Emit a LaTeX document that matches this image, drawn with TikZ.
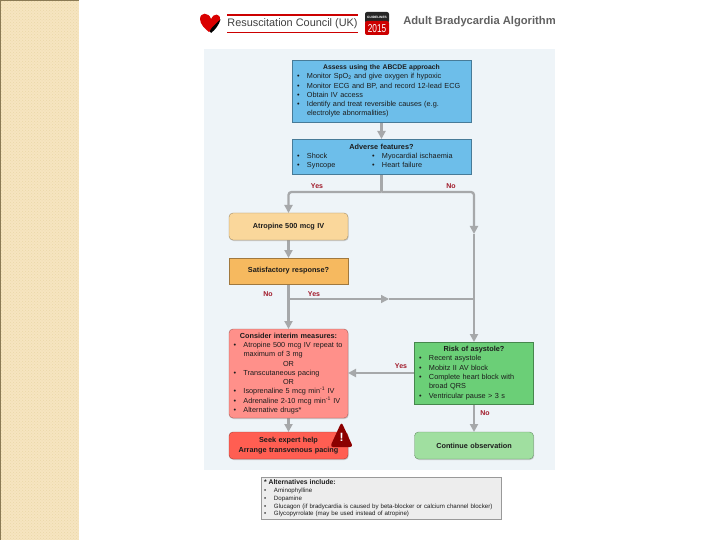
\documentclass[tikz,border=0pt]{standalone}
\usepackage{fontspec}
\setmainfont{Liberation Sans}
\usetikzlibrary{positioning,backgrounds,arrows.meta,shadows,patterns}
\definecolor{stripc}{HTML}{F6E5C0}
\definecolor{stripd}{HTML}{EBD7A8}
\definecolor{stripe}{HTML}{8A7A55}
\definecolor{panelc}{HTML}{EEF4F8}
\definecolor{connc}{HTML}{A6A8AA}
\definecolor{lblc}{HTML}{A01828}
\definecolor{inkc}{HTML}{1C1C1C}
\definecolor{assessc}{HTML}{6DBEEA}
\definecolor{atropc}{HTML}{FAD79B}
\definecolor{satisc}{HTML}{F6B95F}
\definecolor{interc}{HTML}{FF908A}
\definecolor{seekc}{HTML}{FF5E52}
\definecolor{riskc}{HTML}{6BCF77}
\definecolor{contc}{HTML}{A0DFA0}
\newcommand{\bitem}[1]{\par\noindent\hangindent=10pt\hangafter=1\makebox[10pt][l]{\textbullet}#1\par}
\newcommand{\bpair}[2]{\par\noindent\makebox[10pt][l]{\textbullet}\makebox[65pt][l]{#1}\makebox[10pt][l]{\textbullet}#2\par}
\begin{document}
\begin{tikzpicture}[
  x=1pt,y=-1pt,
  font=\fontsize{7.3}{9.3}\selectfont,
  text=inkc,
  blk/.style={draw,outer sep=0pt,inner xsep=5pt,inner ysep=0pt,align=left,
    drop shadow={shadow xshift=.7pt,shadow yshift=-1pt,opacity=.35}},
  assessbox/.style={blk,fill=#1,draw=#1!65!black,text width=169pt},
  wide/.style={blk,fill=#1,draw=#1!65!black,text width=110pt,inner xsep=4.5pt},
  soft/.style={wide=#1,rounded corners=4pt},
  fl/.style={-{Triangle[length=8pt,width=8pt]},line width=2.3pt,draw=connc},
  ln/.style={line width=2.3pt,draw=connc},
  thin fl/.style={-{Triangle[length=8pt,width=8pt]},line width=1.3pt,draw=connc},
  lbl/.style={text=lblc,font=\fontsize{7}{8}\selectfont\bfseries},
]
\useasboundingbox (0,0) rectangle (720,540);
% page strip and panel
\begin{scope}[on background layer]
  \fill[stripc] (0,0) rectangle (78.5,540);
  \fill[pattern=crosshatch dots,pattern color=stripd] (0,0) rectangle (78.5,540);
  \fill[stripe] (0,0) rectangle (78.5,1);
  \fill[stripe] (0,0) rectangle (.8,540);
  \node[fill=panelc,minimum width=351pt,minimum height=421pt,outer sep=0pt] (panel) at (379.5,259.5) {};
\end{scope}
% logo
\fill[red!85!black] (200,19) .. controls (200,12) and (209,12) .. (211,19)
  .. controls (213,13) and (221,13) .. (220,20) .. controls (219,25) and (213,29) .. (209,32)
  .. controls (205,29) and (200,24) .. (200,19) -- cycle;
\fill[black] (220.5,19.5) .. controls (219,25) and (215,30) .. (211,33) .. controls (207,32) and (214,25) .. (220.5,19.5) -- cycle;
\draw[red!80!black,line width=1.1pt] (227,15) -- (358,15);
\draw[red!80!black,line width=1.1pt] (227,32.5) -- (358,32.5);
\node[font=\fontsize{10.9}{12}\selectfont,text=black!75] (rcuk) at (292.5,24) {Resuscitation Council (UK)};
\fill[black!85,rounded corners=2pt] (365,12) rectangle (389,23);
\fill[red!80!black,rounded corners=2pt] (365,21) rectangle (389,35);
\node[text=white,font=\fontsize{3.2}{4}\selectfont\bfseries] (badgetop) at (377,17) {GUIDELINES};
\node[text=white,font=\fontsize{11.5}{12}\selectfont,transform shape,xscale=.72] (badgeyear) at (377,28.5) {2015};
\node[font=\fontsize{11.2}{12}\selectfont\bfseries,text=black!62] (title) at (479.5,22) {Adult Bradycardia Algorithm};
% boxes
\node[assessbox=assessc,minimum height=62pt] (assess) at (381.5,91)
  {\centerline{\fontsize{6.8}{9.3}\selectfont\textbf{Assess using the ABCDE approach}}%
   \bitem{Monitor SpO\textsubscript{2} and give oxygen if hypoxic}
   \bitem{Monitor ECG and BP, and record 12-lead ECG}
   \bitem{Obtain IV access}
   \bitem{Identify and treat reversible causes (e.g.\hfil\break electrolyte abnormalities)}};
\node[assessbox=assessc,minimum height=35pt,below=17pt of assess] (adverse)
  {\centerline{\textbf{Adverse features?}}%
   \bpair{Shock}{Myocardial ischaemia}
   \bpair{Syncope}{Heart failure}};
\node[soft=atropc,minimum height=27pt] (atropine) at (288.5,226.5)
  {\centerline{\textbf{Atropine 500 mcg IV}}};
\node[wide=satisc,minimum height=26pt,below=18pt of atropine] (satisf)
  {\centerline{\textbf{Satisfactory response?}}};
\node[soft=interc,minimum height=89pt,below=45pt of satisf] (interim)
  {\centerline{\textbf{Consider interim measures:}}%
   \bitem{Atropine 500 mcg IV repeat to maximum of 3 mg}
   \centerline{OR}%
   \bitem{Transcutaneous pacing}
   \centerline{OR}%
   \bitem{Isoprenaline 5 mcg min\textsuperscript{-1} IV}
   \bitem{Adrenaline 2-10 mcg min\textsuperscript{-1} IV}
   \bitem{Alternative drugs*}};
\node[soft=seekc,minimum height=27pt,below=14pt of interim] (seek)
  {\centerline{\textbf{Seek expert help}}\par\centerline{\textbf{Arrange transvenous pacing}}};
\node[wide=riskc,minimum height=62pt] (risk) at (474,373)
  {\centerline{\textbf{Risk of asystole?}}%
   \bitem{Recent asystole}
   \bitem{Mobitz II AV block}
   \bitem{Complete heart block with broad QRS}
   \bitem{Ventricular pause > 3 s}};
\node[soft=contc,minimum height=27pt,below=28pt of risk] (cont)
  {\centerline{\textbf{Continue observation}}};
\node[draw=black!40,fill=black!7,outer sep=0pt,inner xsep=3pt,inner ysep=0pt,align=left,text width=234pt,minimum height=42pt,
      font=\fontsize{6.15}{7.7}\selectfont] (alts) at (381,498.5)
  {{\fontsize{6.8}{7.7}\selectfont\textbf{* Alternatives include:}}
   \bitem{Aminophylline}
   \bitem{Dopamine}
   \bitem{Glucagon (if bradycardia is caused by beta-blocker or calcium channel blocker)}
   \bitem{Glycopyrrolate (may be used instead of atropine)}};
\fill[red!55!black,rounded corners=3pt] (341.5,422) -- (353,447) -- (330,447) -- cycle;
\node[text=white,font=\fontsize{12}{12}\selectfont\bfseries] (warn) at (341.5,437) {!};
% connectors
\coordinate (bus) at (adverse.south |- 0,192);
\coordinate (righttip) at (risk.north |- 0,234);
\coordinate (yesjoin) at (satisf.south |- 0,299);
\coordinate (yestip) at (389,299);
\coordinate (yesend) at (risk.north |- 0,299);
\begin{scope}[on background layer]
\draw[fl] (assess) -- (adverse);
\draw[ln] (adverse) -- (bus);
\draw[fl,rounded corners=3pt] (bus) -| (atropine.north);
\draw[fl,rounded corners=3pt] (bus) -| (righttip);
\draw[fl] (righttip) -- (risk.north);
\draw[fl] (atropine) -- (satisf);
\draw[fl] (satisf) -- (interim);
\draw[thin fl] (yesjoin) -- (yestip);
\draw[line width=1.3pt,draw=connc] (yestip) -- (yesend);
\draw[fl] (interim) -- (seek);
\draw[fl] (risk.west) -- (interim.east |- risk.west);
\draw[fl] (risk) -- (cont);
\end{scope}
% labels
\node[lbl] (yesa) at (317,186) {Yes};
\node[lbl] (noa) at (451,186) {No};
\node[lbl] (nob) at (268,294) {No};
\node[lbl] (yesb) at (314,294) {Yes};
\node[lbl] (yesc) at (401,366) {Yes};
\node[lbl] (noc) at (485,413) {No};
\end{tikzpicture}
\end{document}
